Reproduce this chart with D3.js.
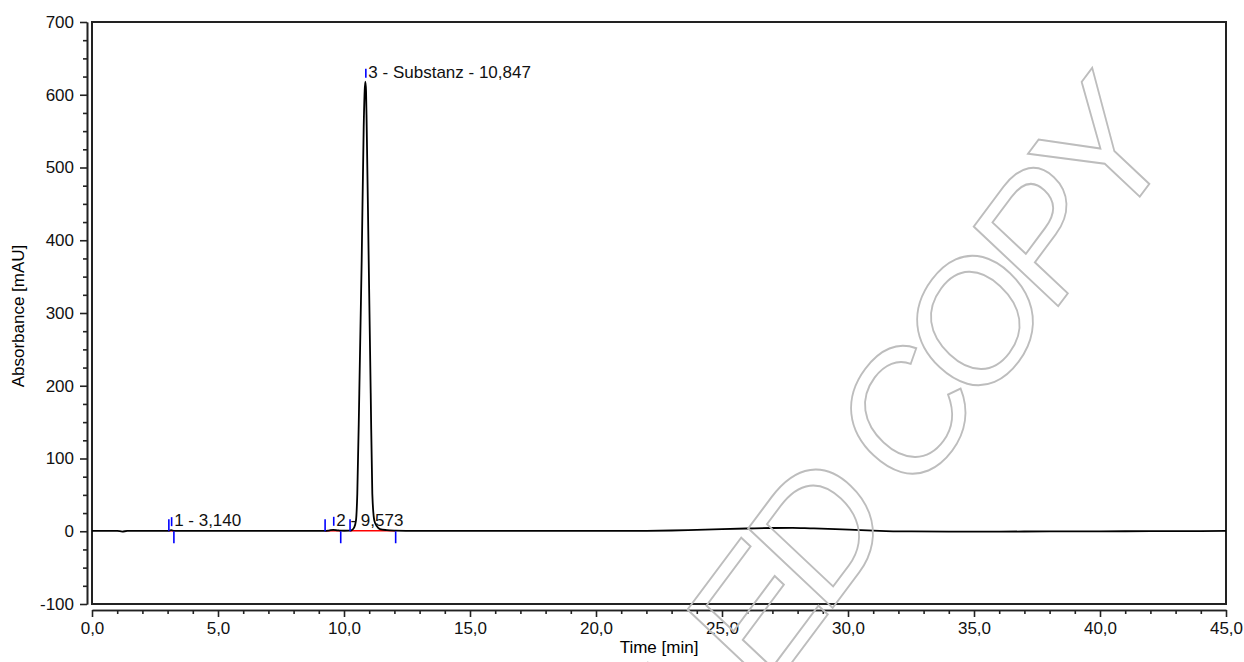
<!DOCTYPE html>
<html>
<head>
<meta charset="utf-8">
<script src="https://d3js.org/d3.v7.min.js"></script>
<style>
  body { margin: 0; background: #fff; }
  svg { display: block; font-family: Arial, "Liberation Sans", sans-serif; }
  .axis path, .axis line { stroke: #222; stroke-width: 1.6px; }
  .axis text { font-size: 17px; fill: #111; }
</style>
</head>
<body>
<svg id="chart" width="1244" height="662"></svg>
<script>
// Chromatogram trace (time in min, absorbance in mAU)
var times = [0, 0.5, 1.0, 1.2, 1.4, 2.0, 2.8, 3.05, 3.14, 3.25, 3.5, 5, 7, 8.5,
  9.25, 9.4, 9.573, 9.75, 9.87, 10.0, 10.24, 10.306, 10.4, 10.476, 10.528, 10.607,
  10.702, 10.782, 10.82, 10.847, 10.875, 10.901, 10.98, 11.06, 11.123, 11.202,
  11.3, 11.429, 11.7, 12.05, 12.5, 13, 15, 18, 20, 22, 23, 24, 25, 26, 27, 27.8,
  28.5, 29.5, 30.5, 31.5, 32.5, 34, 36, 38, 40, 42, 44, 45];
var absorbance = [0.4, 0.4, 0.5, -0.4, 0.4, 0.4, 0.5, 0.5, 1.5, 0.5, 0.4, 0.4, 0.5, 0.5,
  0.5, 1.0, 2.0, 1.2, 0.8, 0.7, 0.8, 1.5, 5, 15, 52, 190,
  373, 556, 605, 618, 605, 556, 373, 190, 52, 15,
  7, 3, 1.5, 0.8, 0.5, 0.4, 0.4, 0.4, 0.5, 0.6, 1.0, 2.0, 3.0, 3.8, 4.5, 4.6,
  4.0, 3.0, 1.5, 0.3, -0.3, -0.4, -0.4, -0.3, -0.1, 0.1, 0.3, 0.4];

// Integrated peaks
var peakLabels = ["1 - 3,140", "2 - 9,573", "3 - Substanz - 10,847"];
var peakRT = [3.14, 9.573, 10.847];
var peakHeight = [1.5, 2.0, 618];
var peakStart = [3.05, 9.25, 10.24];
var peakEnd = [3.25, 9.87, 12.05];

// Axis ticks
var xMajor = [0, 5, 10, 15, 20, 25, 30, 35, 40, 45];
var yMajor = [-100, 0, 100, 200, 300, 400, 500, 600, 700];

var svg = d3.select("#chart");
var plotLeft = 92, plotRight = 1226, plotTop = 22, plotBottom = 604;

var x = d3.scaleLinear().domain([0, 45]).range([plotLeft, plotRight]);
var y = d3.scaleLinear().domain([-100, 700]).range([plotBottom, plotTop]);

// German number style, plain hyphen for negatives
var deLocale = d3.formatLocale({ decimal: ",", thousands: ".", grouping: [3], currency: ["", " €"], minus: "-" });
var fmt1 = deLocale.format(".1f");
var fmt0 = deLocale.format("d");

// Plot frame
svg.append("rect")
    .attr("x", plotLeft)
    .attr("y", plotTop)
    .attr("width", plotRight - plotLeft)
    .attr("height", plotBottom - plotTop)
    .attr("fill", "none")
    .attr("stroke", "#222")
    .attr("stroke-width", 2);

// Y axis (sits just left of the frame), minor ticks every 25
var yMinor = d3.range(-100, 701, 25).filter(function(v) { return v % 100 !== 0; });
svg.append("g")
    .attr("class", "axis")
    .attr("transform", "translate(87,0)")
    .call(d3.axisLeft(y).tickValues(yMinor).tickSize(4).tickSizeOuter(0).tickFormat(""));
svg.append("g")
    .attr("class", "axis")
    .attr("transform", "translate(87,0)")
    .call(d3.axisLeft(y).tickValues(yMajor).tickSize(7).tickSizeOuter(0).tickPadding(6).tickFormat(fmt0));

// X axis (below the frame), minor ticks every minute
var xMinor = d3.range(0, 46, 1).filter(function(v) { return v % 5 !== 0; });
svg.append("g")
    .attr("class", "axis")
    .attr("transform", "translate(0,610)")
    .call(d3.axisBottom(x).tickValues(xMinor).tickSize(4).tickSizeOuter(0).tickFormat(""));
svg.append("g")
    .attr("class", "axis")
    .attr("transform", "translate(0,610)")
    .call(d3.axisBottom(x).tickValues(xMajor).tickSize(7).tickSizeOuter(0).tickPadding(5).tickFormat(fmt1));

// Axis titles
svg.append("text")
    .attr("x", (plotLeft + plotRight) / 2)
    .attr("y", 653)
    .attr("text-anchor", "middle")
    .attr("font-size", "17px")
    .text("Time [min]");

svg.append("text")
    .attr("transform", "translate(24," + ((plotTop + plotBottom) / 2 + 3) + ") rotate(-90)")
    .attr("text-anchor", "middle")
    .attr("font-size", "17px")
    .text("Absorbance [mAU]");

// Integration baselines in red
svg.selectAll("line.base")
    .data(peakStart)
    .enter()
    .append("line")
    .attr("class", "base")
    .attr("x1", function(d) { return x(d); })
    .attr("x2", function(d, i) { return x(peakEnd[i]); })
    .attr("y1", y(0) - 0.5)
    .attr("y2", y(0) - 0.5)
    .attr("stroke", "#ff0000")
    .attr("stroke-width", 1.6);

// The trace itself
var trace = times.map(function(t, i) { return [t, absorbance[i]]; });
var line = d3.line()
    .x(function(d) { return x(d[0]); })
    .y(function(d) { return y(d[1]); })
    .curve(d3.curveMonotoneX);

svg.append("path")
    .datum(trace)
    .attr("fill", "none")
    .attr("stroke", "#000")
    .attr("stroke-width", 1.8)
    .attr("d", line);

// Peak delimiters: start tick above, end tick below, RT tick over the apex
svg.selectAll("line.start")
    .data(peakStart)
    .enter()
    .append("line")
    .attr("class", "start")
    .attr("x1", function(d) { return x(d); })
    .attr("x2", function(d) { return x(d); })
    .attr("y1", y(0) - 12)
    .attr("y2", y(0))
    .attr("stroke", "#0000ff")
    .attr("stroke-width", 1.6);

svg.selectAll("line.end")
    .data(peakEnd)
    .enter()
    .append("line")
    .attr("class", "end")
    .attr("x1", function(d) { return x(d); })
    .attr("x2", function(d) { return x(d); })
    .attr("y1", y(0))
    .attr("y2", y(0) + 12)
    .attr("stroke", "#0000ff")
    .attr("stroke-width", 1.6);

svg.selectAll("line.rt")
    .data(peakRT)
    .enter()
    .append("line")
    .attr("class", "rt")
    .attr("x1", function(d) { return x(d) + 0.5; })
    .attr("x2", function(d) { return x(d) + 0.5; })
    .attr("y1", function(d, i) { return y(peakHeight[i]) - 13; })
    .attr("y2", function(d, i) { return y(peakHeight[i]) - 4; })
    .attr("stroke", "#0000ff")
    .attr("stroke-width", 1.6);

// Peak labels
svg.selectAll("text.peak")
    .data(peakRT)
    .enter()
    .append("text")
    .attr("class", "peak")
    .attr("x", function(d) { return x(d) + 3; })
    .attr("y", function(d, i) { return y(peakHeight[i]) - 4; })
    .attr("font-size", "17px")
    .attr("fill", "#111")
    .text(function(d, i) { return peakLabels[i]; });

// Outlined watermark - the stamp is squashed sideways, hence the scale
svg.append("text")
    .attr("transform", "translate(1171,155) scale(0.89,1) rotate(-50)")
    .attr("text-anchor", "end")
    .attr("font-size", "180px")
    .attr("letter-spacing", "-14px")
    .attr("fill", "none")
    .attr("stroke", "#bdbdbd")
    .attr("stroke-width", 2)
    .text("CONTROLLED COPY");
</script>
</body>
</html>
